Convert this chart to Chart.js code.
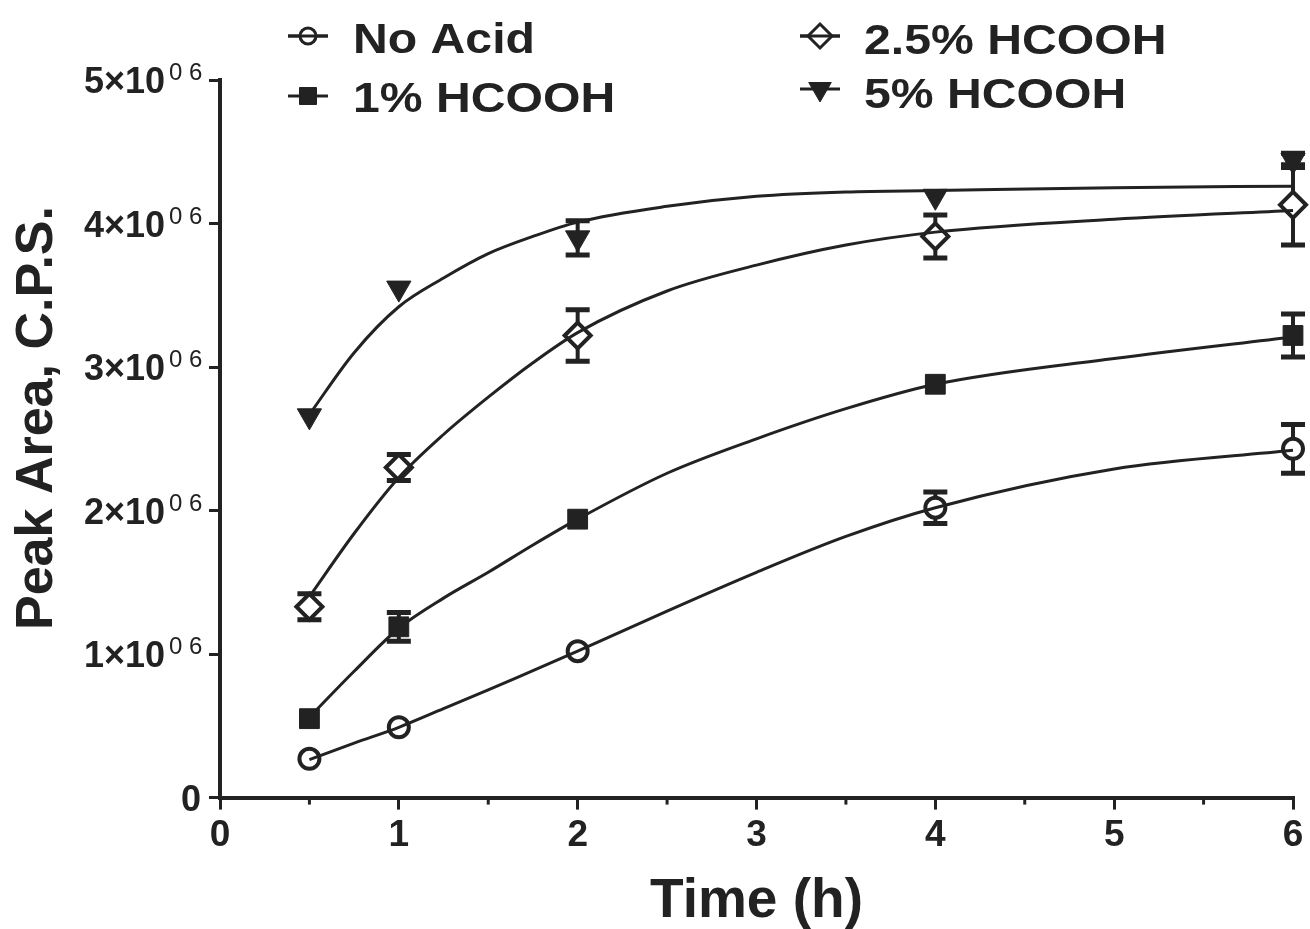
<!DOCTYPE html>
<html>
<head>
<meta charset="utf-8">
<title>Peak Area vs Time</title>
<script src="https://cdn.jsdelivr.net/npm/chart.js@4.4.1/dist/chart.umd.min.js"></script>
<style>
    html, body { margin: 0; padding: 0; background: #fff; }
    #wrap { width: 1310px; height: 929px; }
</style>
</head>
<body>
<div id="wrap"><canvas id="grafico"></canvas></div>
<script>
// measured points (h, C.P.S.)
const times = [0.5, 1, 2, 4, 6];
const noAcid   = [0.27e6, 0.49e6, 1.02e6, 2.02e6, 2.43e6];
const acid1    = [0.55e6, 1.19e6, 1.94e6, 2.88e6, 3.22e6];
const acid25   = [1.33e6, 2.30e6, 3.22e6, 3.91e6, 4.13e6];
const acid5    = [2.66e6, 3.55e6, 3.90e6, 4.19e6, 4.44e6];

// +/- error, null where the bar is hidden by the marker
const noAcidErr = [null, null, null, 0.11e6, 0.17e6];
const acid1Err  = [null, 0.10e6, null, null, 0.15e6];
const acid25Err = [0.09e6, 0.09e6, 0.18e6, 0.15e6, 0.28e6];
const acid5Err  = [null, null, 0.12e6, null, 0.05e6];

// fitted curves
const fitTimes  = [0.5, 0.75, 1, 1.25, 1.5, 1.75, 2, 2.5, 3, 3.5, 4, 5, 6];
const noAcidFit = [0.265e6, 0.38e6, 0.49e6, 0.62e6, 0.75e6, 0.885e6, 1.02e6, 1.30e6, 1.57e6, 1.82e6, 2.02e6, 2.29e6, 2.42e6];
const acid1Fit  = [0.56e6, 0.88e6, 1.18e6, 1.39e6, 1.57e6, 1.76e6, 1.94e6, 2.26e6, 2.50e6, 2.71e6, 2.88e6, 3.06e6, 3.21e6];
const acid25Fit = [1.40e6, 1.84e6, 2.23e6, 2.53e6, 2.79e6, 3.03e6, 3.24e6, 3.53e6, 3.71e6, 3.85e6, 3.94e6, 4.03e6, 4.09e6];
const acid5Fit  = [2.67e6, 3.10e6, 3.42e6, 3.62e6, 3.79e6, 3.91e6, 4.01e6, 4.12e6, 4.19e6, 4.22e6, 4.23e6, 4.25e6, 4.26e6];

const labels = ['No Acid', '1% HCOOH', '2.5% HCOOH', '5% HCOOH'];

// axis labels
const yTickValues = [0, 1e6, 2e6, 3e6, 4e6, 5e6];
const yTickMain = ['0', '1×10', '2×10', '3×10', '4×10', '5×10'];
const yTickSup  = ['', '0 6', '0 6', '0 6', '0 6', '0 6'];
const xMinorTicks = [0.5, 1.5, 2.5, 3.5, 4.5, 5.5];

const ink = '#222';
const family = '"Liberation Sans", Arial, sans-serif';

const series = [
    { label: labels[0], values: noAcid, err: noAcidErr, fit: noAcidFit, style: 'circle',  radius: 10, border: 4, fill: '#fff', rotation: 0 },
    { label: labels[1], values: acid1,  err: acid1Err,  fit: acid1Fit,  style: 'rect',    radius: 14, border: 1, fill: ink,    rotation: 0 },
    { label: labels[2], values: acid25, err: acid25Err, fit: acid25Fit, style: 'rectRot', radius: 13, border: 4, fill: '#fff', rotation: 0 },
    { label: labels[3], values: acid5,  err: acid5Err,  fit: acid5Fit,  style: 'triangle',radius: 14, border: 1, fill: ink,    rotation: 180 }
];

const toPoints = (xs, ys) => xs.map((t, i) => ({ x: t, y: ys[i] }));

const datasets = [];
series.forEach(s => {
    datasets.push({
        label: s.label,
        data: toPoints(times, s.values),
        showLine: false,
        pointStyle: s.style,
        pointRadius: s.radius,
        pointRotation: s.rotation,
        pointBorderWidth: s.border,
        pointBackgroundColor: s.fill,
        pointBorderColor: ink,
        clip: false,
        order: 2
    });
    datasets.push({
        label: s.label + ' fit',
        data: toPoints(fitTimes, s.fit),
        showLine: true,
        pointRadius: 0,
        borderColor: ink,
        borderWidth: 3,
        cubicInterpolationMode: 'monotone',
        clip: false,
        order: 1
    });
});

const errorBars = {
    id: 'errorBars',
    beforeDatasetsDraw(chart) {
        const { ctx, scales: { x, y } } = chart;
        ctx.save();
        ctx.strokeStyle = ink;
        series.forEach(s => {
            s.err.forEach((e, i) => {
                if (!e) return;
                const px = x.getPixelForValue(times[i]);
                const top = y.getPixelForValue(s.values[i] + e);
                const bot = y.getPixelForValue(s.values[i] - e);
                ctx.lineWidth = 4;
                ctx.beginPath();
                ctx.moveTo(px, top);
                ctx.lineTo(px, bot);
                ctx.stroke();
                ctx.lineWidth = 5;
                ctx.beginPath();
                ctx.moveTo(px - 12, top); ctx.lineTo(px + 12, top);
                ctx.moveTo(px - 12, bot); ctx.lineTo(px + 12, bot);
                ctx.stroke();
            });
        });
        ctx.restore();
    }
};

const extras = {
    id: 'extras',
    afterDraw(chart) {
        const { ctx, chartArea, scales: { x, y } } = chart;
        ctx.save();
        ctx.fillStyle = ink;
        ctx.strokeStyle = ink;

        // small ticks between the hours
        ctx.lineWidth = 3;
        xMinorTicks.forEach(t => {
            const px = x.getPixelForValue(t);
            ctx.beginPath();
            ctx.moveTo(px, chartArea.bottom);
            ctx.lineTo(px, chartArea.bottom + 7);
            ctx.stroke();
        });

        // y tick labels with the superscript exponent
        ctx.textBaseline = 'alphabetic';
        yTickValues.forEach((v, i) => {
            const py = y.getPixelForValue(v);
            ctx.font = `bold 36px ${family}`;
            ctx.textAlign = 'right';
            if (yTickSup[i]) {
                ctx.fillText(yTickMain[i], 165, py + 13);
                ctx.font = `24px ${family}`;
                ctx.textAlign = 'left';
                ctx.fillText(yTickSup[i], 169, py);
            } else {
                ctx.fillText(yTickMain[i], 201, py + 13);
            }
        });

        // y title
        ctx.save();
        ctx.translate(52, 418);
        ctx.rotate(-Math.PI / 2);
        ctx.font = `bold 52px ${family}`;
        ctx.textAlign = 'center';
        ctx.fillText('Peak Area, C.P.S.', 0, 0);
        ctx.restore();

        // legend, two columns
        const slots = [
            { mx: 308, my: 36, tx: 353, ty: 38, r: 8 },
            { mx: 308, my: 96, tx: 353, ty: 97, r: 12 },
            { mx: 820, my: 36, tx: 864, ty: 39, r: 12 },
            { mx: 820, my: 89, tx: 864, ty: 93, r: 13 }
        ];
        series.forEach((s, i) => {
            const p = slots[i];
            ctx.lineWidth = 3;
            ctx.beginPath();
            ctx.moveTo(p.mx - 20, p.my);
            ctx.lineTo(p.mx + 20, p.my);
            ctx.stroke();
            ctx.fillStyle = s.fill;
            ctx.lineWidth = s.border === 1 ? 1 : 3;
            Chart.helpers.drawPoint(ctx, {
                pointStyle: s.style,
                radius: p.r,
                rotation: s.rotation,
                borderWidth: ctx.lineWidth
            }, p.mx, p.my);
            if (s.fill === '#fff') {
                // keep the line visible through the open marker
                ctx.lineWidth = 3;
                ctx.beginPath();
                ctx.moveTo(p.mx - 20, p.my);
                ctx.lineTo(p.mx + 20, p.my);
                ctx.stroke();
            }
            ctx.fillStyle = ink;
            ctx.save();
            ctx.translate(p.tx, p.ty + 15);
            ctx.scale(1.12, 1);
            ctx.font = `bold 43px ${family}`;
            ctx.textAlign = 'left';
            ctx.fillText(s.label, 0, 0);
            ctx.restore();
        });
        ctx.restore();
    }
};

new Chart(document.getElementById('grafico'), {
    type: 'scatter',
    data: { datasets },
    options: {
        responsive: true,
        maintainAspectRatio: false,
        animation: false,
        events: [],
        layout: { padding: { left: 209, right: 14, top: 80, bottom: 0 } },
        plugins: {
            legend: { display: false },
            tooltip: { enabled: false }
        },
        scales: {
            x: {
                type: 'linear',
                min: 0,
                max: 6,
                border: { color: ink, width: 4 },
                grid: { drawOnChartArea: false, color: ink, lineWidth: 3, tickLength: 12 },
                ticks: {
                    stepSize: 1,
                    color: ink,
                    padding: 4,
                    maxRotation: 0,
                    font: { family, size: 37, weight: 'bold' }
                },
                title: {
                    display: true,
                    text: 'Time (h)',
                    color: ink,
                    font: { family, size: 55, weight: 'bold', lineHeight: 1 },
                    padding: { top: 12, bottom: 0 }
                }
            },
            y: {
                min: 0,
                max: 5e6,
                border: { color: ink, width: 4 },
                grid: { drawOnChartArea: false, color: ink, lineWidth: 3, tickLength: 11 },
                ticks: { stepSize: 1e6, display: false }
            }
        }
    },
    plugins: [errorBars, extras]
});
</script>
</body>
</html>
